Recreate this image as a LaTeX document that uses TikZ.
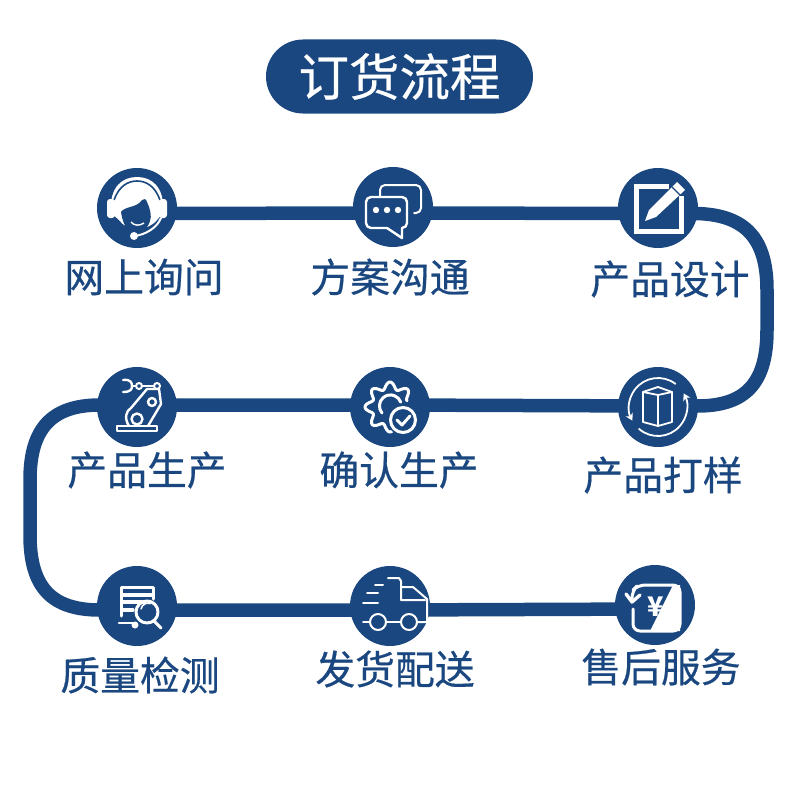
\documentclass[tikz,border=0pt]{standalone}
\usepackage{fontspec}
\setmainfont{Noto Sans CJK SC}
\newfontfamily\midfont[RawFeature={embolden=0.5}]{Noto Sans CJK SC}
\usetikzlibrary{backgrounds,arrows.meta}
\definecolor{navy}{HTML}{1A477F}
\tikzset{
  flowline/.style={draw=navy,line width=13.5pt},
  stopdot/.style={circle,fill=navy,minimum size=80pt,inner sep=0pt},
  steplabel/.style={text=navy,inner sep=0pt,font=\midfont\fontsize{39.8}{40}\selectfont},
  iconline/.style={draw=white,line width=2pt,line cap=round,line join=round}
}
\begin{document}
\begin{tikzpicture}[x=1pt,y=-1pt]
\useasboundingbox (0,0) rectangle (800,800);
% title
\node[fill=navy,text=white,rounded corners=37pt,minimum width=267pt,minimum height=74pt,inner sep=0pt,font=\midfont\fontsize{50.5}{51}\selectfont] (title) at (399.5,76.5) {订货流程};
% stops
\node[stopdot] (ask) at (137,208) {};
\node[stopdot] (talk) at (393,207) {};
\node[stopdot] (design) at (658,208) {};
\node[stopdot] (robot) at (137,407) {};
\node[stopdot] (confirm) at (390,407) {};
\node[stopdot] (sample) at (658,407) {};
\node[stopdot] (check) at (137,606) {};
\node[stopdot] (truck) at (390,606) {};
\node[stopdot] (service) at (655,605) {};
% labels
\node[steplabel] (askl) at (144,277) {网上询问};
\node[steplabel] (talkl) at (390,277) {方案沟通};
\node[steplabel] (designl) at (670,279) {产品设计};
\node[steplabel] (robotl) at (147,470) {产品生产};
\node[steplabel] (confirml) at (399,470) {确认生产};
\node[steplabel] (samplel) at (663,475) {产品打样};
\node[steplabel] (checkl) at (140,675) {质量检测};
\node[steplabel] (truckl) at (395,669) {发货配送};
\node[steplabel] (servicel) at (661,667) {售后服务};
% connectors
\begin{scope}[on background layer]
\draw[flowline] ([yshift=-5.5pt]ask.center) -- ([yshift=-6pt]talk.center) -- ([yshift=-5.5pt]design.center);
\draw[flowline] ([yshift=-5.5pt]design.center) -- (697,213.5) .. controls (745,215) and (767,238) .. (767,290) -- (767,330) .. controls (767,384) and (745,406) .. (697,406) -- ([yshift=1pt]sample.center);
\draw[flowline] ([yshift=1pt]sample.center) -- ([yshift=2pt]confirm.center) -- ([yshift=2pt]robot.center);
\draw[flowline] ([yshift=2pt]robot.center) -- (100,405) .. controls (52,405) and (30,428) .. (30,480) -- (30,535) .. controls (30,588) and (52,610) .. (100,610) -- ([yshift=-4pt]check.center);
\draw[flowline] ([yshift=-4pt]check.center) -- ([yshift=-4pt]truck.center) -- ([yshift=-4pt]service.center);
\end{scope}
% headset
\begin{scope}[shift={(ask.center)}]
\fill[white] (-26,5) .. controls (-28,-22) and (-14,-31) .. (0,-31) .. controls (14,-31) and (28,-22) .. (26,5) -- (20,12) .. controls (10,24) and (-10,24) .. (-18,12) -- cycle;
\draw[draw=navy,line width=1.6pt] (-23,-8) .. controls (-18,-22) and (-9,-27) .. (0,-27) .. controls (9,-27) and (18,-22) .. (23,-8);
\fill[white,rounded corners=3pt] (-30,-9) rectangle (-22,10);
\fill[white,rounded corners=3pt] (22,-9) rectangle (30,10);
\fill[navy] (-16,4) .. controls (-12,-2) and (0,0) .. (5,-8) .. controls (7,-10) and (9,-9) .. (10,-6) .. controls (13,0) and (15,8) .. (13,13) .. controls (10,22) and (4,26) .. (-1,26) .. controls (-8,26) and (-14,18) .. (-16,4) -- cycle;
\draw[draw=white,line width=1.4pt] (-6,14) .. controls (-3,18) and (3,18) .. (7,15);
\draw[iconline] (24,10) .. controls (20,20) and (8,27) .. (-3,28);
\fill[white] (-3,28) circle (4);
\end{scope}
% chat bubbles
\begin{scope}[shift={(talk.center)}]
\draw[iconline,rounded corners=5pt] (-13,-10) -- (-13,-22) -- (28,-22) -- (28,6) -- (21,6);
\draw[iconline,rounded corners=5pt,line width=2.4pt] (-6,21) -- (-27,21) -- (-27,-10) -- (14,-10) -- (14,21) -- (9,21);
\draw[iconline,line width=2.4pt] (-6,21) -- (9,31) -- (9,21);
\foreach \dotx in {-17,-6,5}
  \fill[white] (\dotx,3) circle (3.2);
\end{scope}
% pencil and sheet
\begin{scope}[shift={(design.center)}]
\draw[white,line width=5pt] (23,-12) -- (23,23) -- (-22,23) -- (-22,-22) -- (11,-22);
\fill[white] (-13,13) -- (-9,2) -- (19,-26) -- (27,-18) -- (-2,9) -- cycle;
\draw[navy,line width=1.2pt] (14,-21) -- (22,-13);
\end{scope}
% box with turning arrows
\begin{scope}[shift={(sample.center)}]
\draw[iconline,line width=1.8pt] (-15,-15) -- (0,-20) -- (14,-15) -- (14,15) -- (0,19) -- (-15,15) -- cycle;
\draw[iconline,line width=1.8pt] (-15,-15) -- (0,-12) -- (14,-15);
\draw[iconline,line width=1.8pt] (0,-12) -- (0,19);
\draw[iconline,line width=1.8pt,-{Stealth[length=7pt,width=8pt]}] (-53:29) arc[start angle=-53,end angle=-208,radius=29];
\draw[iconline,line width=1.8pt,-{Stealth[length=7pt,width=8pt]}] (131:29) arc[start angle=131,end angle=-28,radius=29];
\end{scope}
% robot arm
\begin{scope}[shift={(robot.center)}]
\draw[iconline,line width=1.8pt] (-20,19) rectangle (20,24);
\draw[iconline,line width=2.4pt] (-8,19) .. controls (-13,11) and (-11,4) .. (-6,1) -- (10,-18) -- (22,-18) -- (24,-3) -- (11,19);
\draw[iconline,line width=2.4pt] (0,12) circle (5.5);
\draw[iconline,line width=2.4pt] (15,-5) circle (4);
\draw[iconline] (20,-21) circle (3);
\draw[iconline] (2,-21) circle (3);
\draw[iconline,line width=2.6pt] (5,-21) -- (17,-21);
\draw[iconline] (-1,-21) -- (-5,-21);
\draw[iconline,line width=2.4pt] (-14,-27) .. controls (-6,-28) and (-5,-24) .. (-5,-21) .. controls (-5,-18) and (-6,-15) .. (-14,-15);
\end{scope}
% gear with tick
\begin{scope}[shift={(confirm.center)}]
\draw[iconline,line width=3pt] plot[smooth,domain=60:340,samples=90] ({(21.5+3.5*cos(8*\x))*cos(\x)},{(21.5+3.5*cos(8*\x))*sin(\x)});
\draw[iconline,line width=3pt] (-8,6) arc[start angle=140,end angle=340,radius=11];
\fill[navy] (13,13) circle (15.5);
\draw[iconline,line width=3pt] (13,13) circle (12.5);
\draw[iconline,line width=3pt] (7,13) -- (12,18) -- (20,9);
\end{scope}
% report and magnifier
\begin{scope}[shift={(check.center)}]
\draw[iconline,line width=2.6pt] (-2,17) -- (-18,17);
\draw[iconline,line width=3pt] (-16,10) -- (-16,-19) -- (16,-19) -- (16,-7);
\draw[iconline,line width=3.4pt] (-14,-11) -- (15,-11);
\draw[iconline,line width=3.4pt] (-14,-4) -- (8,-4);
\draw[iconline,line width=3.4pt] (-14,4) -- (-4,4);
\draw[iconline,line width=3pt] (10,6) circle (11);
\draw[iconline,line width=3pt] (17,15) -- (24,22);
\fill[white] (-2,19) circle (3.5);
\draw[iconline,line width=1.5pt] (4,3) arc[start angle=190,end angle=290,radius=7];
\end{scope}
% lorry
\begin{scope}[shift={(truck.center)}]
\draw[iconline] (-15,-21) -- (-7,-21);
\draw[iconline] (-23,-13) -- (-12,-13);
\draw[iconline] (-27,-3) -- (-12,-3);
\draw[iconline] (-2,-28) -- (9,-28) -- (11,-25) -- (11,-6) -- (35,-6);
\draw[iconline] (11,-19) -- (23,-19) -- (37,-7) -- (37,16) -- (28,16);
\draw[iconline] (-27,16) -- (-20,16);
\draw[iconline] (-4,16) -- (11,16);
\draw[iconline] (-12,16) circle (8);
\draw[iconline] (19,16) circle (8);
\end{scope}
% refund square
\begin{scope}[shift={(service.center)}]
\fill[white] (18,-20) -- (25,-20) -- (25,26) -- (-5,26) -- cycle;
\draw[iconline,line width=3pt,rounded corners=7pt] (-22,4) -- (-22,26) -- (25,26) -- (25,-20) -- (-17,-20) -- (-23,-14) -- (-23,-8);
\draw[iconline,line width=3.4pt] (-29,-11) -- (-23,-3) -- (-15,-10);
\node[text=white,inner sep=0pt,font=\fontsize{27}{27}\selectfont\bfseries] (yen) at (1,2) {¥};
\end{scope}
\end{tikzpicture}
\end{document}
